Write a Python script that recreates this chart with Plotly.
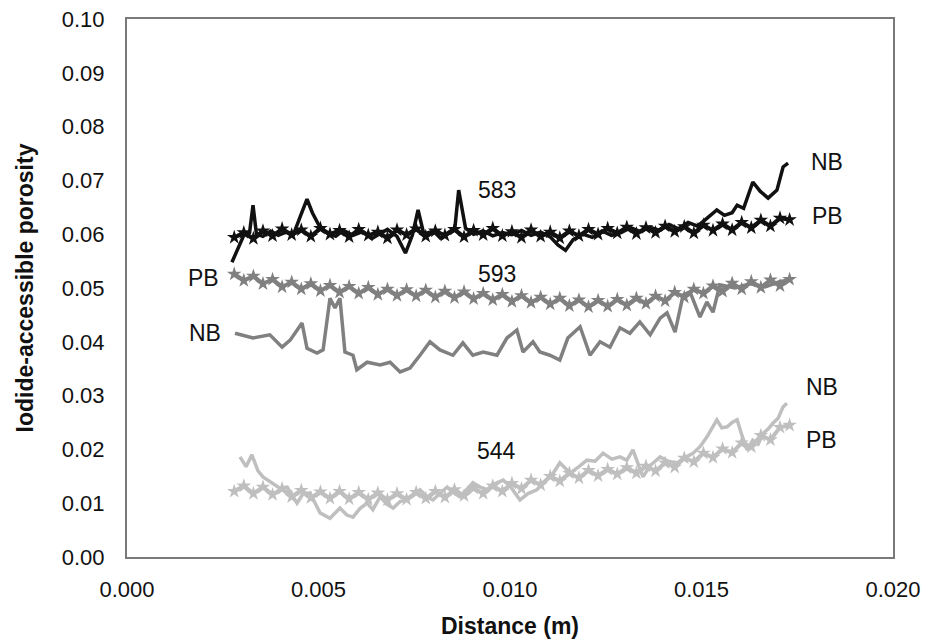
import plotly.graph_objects as go

# ---------------- data ----------------
dist_pb = [0.00280, 0.00305, 0.00330, 0.00355, 0.00380, 0.00405, 0.00430, 0.00455, 0.00480, 0.00505,
           0.00530, 0.00555, 0.00580, 0.00605, 0.00630, 0.00655, 0.00680, 0.00705, 0.00730, 0.00755,
           0.00780, 0.00805, 0.00830, 0.00855, 0.00880, 0.00905, 0.00930, 0.00955, 0.00980, 0.01005,
           0.01030, 0.01055, 0.01080, 0.01105, 0.01130, 0.01155, 0.01180, 0.01205, 0.01230, 0.01255,
           0.01280, 0.01305, 0.01330, 0.01355, 0.01380, 0.01405, 0.01430, 0.01455, 0.01480, 0.01505,
           0.01530, 0.01555, 0.01580, 0.01605, 0.01630, 0.01655, 0.01680, 0.01705, 0.01730]

pb_583 = [0.0594, 0.0603, 0.0592, 0.0606, 0.0597, 0.0610, 0.0599, 0.0608, 0.0596, 0.0611,
          0.0600, 0.0607, 0.0595, 0.0609, 0.0598, 0.0604, 0.0593, 0.0608, 0.0599, 0.0610,
          0.0596, 0.0606, 0.0598, 0.0609, 0.0595, 0.0607, 0.0599, 0.0611, 0.0597, 0.0605,
          0.0594, 0.0608, 0.0596, 0.0604, 0.0593, 0.0606, 0.0597, 0.0609, 0.0600, 0.0611,
          0.0602, 0.0613, 0.0601, 0.0612, 0.0603, 0.0615, 0.0605, 0.0614, 0.0602, 0.0617,
          0.0607, 0.0619, 0.0608, 0.0622, 0.0612, 0.0626, 0.0615, 0.0630, 0.0627]

pb_593 = [0.0526, 0.0514, 0.0522, 0.0508, 0.0516, 0.0502, 0.0511, 0.0498, 0.0508, 0.0495,
          0.0505, 0.0492, 0.0503, 0.0490, 0.0501, 0.0488, 0.0498, 0.0486, 0.0497, 0.0485,
          0.0496, 0.0483, 0.0494, 0.0482, 0.0493, 0.0480, 0.0490, 0.0478, 0.0488, 0.0475,
          0.0486, 0.0473, 0.0483, 0.0470, 0.0481, 0.0467, 0.0478, 0.0465, 0.0477, 0.0466,
          0.0479, 0.0468, 0.0481, 0.0471, 0.0485, 0.0476, 0.0492, 0.0483, 0.0498, 0.0490,
          0.0504, 0.0494, 0.0509, 0.0498, 0.0512, 0.0501, 0.0515, 0.0504, 0.0516]

pb_544 = [0.0122, 0.0132, 0.0118, 0.0130, 0.0116, 0.0127, 0.0112, 0.0124, 0.0110, 0.0121,
          0.0109, 0.0122, 0.0108, 0.0120, 0.0107, 0.0119, 0.0106, 0.0118, 0.0107, 0.0120,
          0.0109, 0.0122, 0.0111, 0.0125, 0.0114, 0.0128, 0.0118, 0.0132, 0.0122, 0.0137,
          0.0127, 0.0143, 0.0134, 0.0150, 0.0141, 0.0156, 0.0147, 0.0161, 0.0151, 0.0163,
          0.0154, 0.0166, 0.0156, 0.0169, 0.0160, 0.0175, 0.0167, 0.0184, 0.0177, 0.0193,
          0.0185, 0.0201, 0.0194, 0.0212, 0.0205, 0.0226, 0.0218, 0.0241, 0.0245]

dist_nb_583 = [0.00274, 0.00290, 0.00305, 0.00320, 0.00329, 0.00338, 0.00355, 0.00375, 0.00395, 0.00415,
               0.00435, 0.00452, 0.00470, 0.00484, 0.00500, 0.00520, 0.00545, 0.00565, 0.00590, 0.00615,
               0.00640, 0.00660, 0.00680, 0.00705, 0.00727, 0.00745, 0.00760, 0.00775, 0.00800, 0.00818,
               0.00840, 0.00856, 0.00866, 0.00884, 0.00905, 0.00930, 0.00955, 0.00980, 0.01005, 0.01030,
               0.01055, 0.01080, 0.01105, 0.01125, 0.01145, 0.01165, 0.01190, 0.01215, 0.01240, 0.01265,
               0.01290, 0.01315, 0.01340, 0.01365, 0.01390, 0.01415, 0.01440, 0.01465, 0.01490, 0.01515,
               0.01540, 0.01560, 0.01580, 0.01593, 0.01610, 0.01634, 0.01653, 0.01674, 0.01697, 0.01713,
               0.01726]
nb_583 = [0.0548, 0.0575, 0.0598, 0.0603, 0.0654, 0.0600, 0.0596, 0.0606, 0.0598, 0.0604,
          0.0600, 0.0632, 0.0665, 0.0640, 0.0618, 0.0603, 0.0596, 0.0607, 0.0598, 0.0605,
          0.0592, 0.0601, 0.0609, 0.0596, 0.0565, 0.0598, 0.0645, 0.0600, 0.0606, 0.0593,
          0.0604, 0.0611, 0.0682, 0.0611, 0.0600, 0.0606, 0.0597, 0.0603, 0.0599, 0.0607,
          0.0598, 0.0604, 0.0595, 0.0580, 0.0570, 0.0590, 0.0600, 0.0594, 0.0606, 0.0598,
          0.0603, 0.0612, 0.0605, 0.0613, 0.0607, 0.0618, 0.0610, 0.0622, 0.0615, 0.0630,
          0.0645, 0.0635, 0.0640, 0.0654, 0.0648, 0.0697, 0.0680, 0.0667, 0.0682, 0.0725,
          0.0732]

dist_nb_593 = [0.00282, 0.00329, 0.00373, 0.00405, 0.00426, 0.00457, 0.00470, 0.00496, 0.00512, 0.00530,
               0.00543, 0.00556, 0.00569, 0.00590, 0.00600, 0.00627, 0.00661, 0.00687, 0.00713, 0.00739,
               0.00765, 0.00791, 0.00817, 0.00851, 0.00877, 0.00903, 0.00930, 0.00966, 0.00992, 0.01018,
               0.01034, 0.01060, 0.01078, 0.01104, 0.01130, 0.01151, 0.01183, 0.01209, 0.01235, 0.01261,
               0.01287, 0.01313, 0.01339, 0.01366, 0.01392, 0.01410, 0.01431, 0.01452, 0.01470, 0.01496,
               0.01514, 0.01530, 0.01548, 0.01587, 0.01627, 0.01666, 0.01705, 0.01731]
nb_593 = [0.0416, 0.0407, 0.0413, 0.0390, 0.0403, 0.0435, 0.0388, 0.0379, 0.0385, 0.0481,
          0.0463, 0.0481, 0.0381, 0.0375, 0.0348, 0.0362, 0.0357, 0.0362, 0.0344, 0.0351,
          0.0375, 0.0400, 0.0385, 0.0375, 0.0398, 0.0375, 0.0381, 0.0375, 0.0407, 0.0422,
          0.0381, 0.0400, 0.0381, 0.0375, 0.0366, 0.0407, 0.0428, 0.0375, 0.0400, 0.0390,
          0.0426, 0.0416, 0.0437, 0.0413, 0.0444, 0.0454, 0.0418, 0.0487, 0.0493, 0.0446,
          0.0474, 0.0455, 0.0506, 0.0500, 0.0508, 0.0502, 0.0512, 0.0515]

dist_nb_544 = [0.00295, 0.00311, 0.00326, 0.00342, 0.00355, 0.00373, 0.00399, 0.00418, 0.00444, 0.00460,
               0.00478, 0.00504, 0.00530, 0.00556, 0.00574, 0.00590, 0.00608, 0.00627, 0.00642, 0.00661,
               0.00679, 0.00695, 0.00713, 0.00731, 0.00747, 0.00765, 0.00783, 0.00799, 0.00817, 0.00836,
               0.00851, 0.00869, 0.00888, 0.00903, 0.00922, 0.00940, 0.00961, 0.00982, 0.01000, 0.01026,
               0.01047, 0.01070, 0.01091, 0.01112, 0.01130, 0.01157, 0.01180, 0.01201, 0.01222, 0.01243,
               0.01266, 0.01287, 0.01305, 0.01321, 0.01347, 0.01366, 0.01392, 0.01413, 0.01436, 0.01457,
               0.01478, 0.01496, 0.01514, 0.01527, 0.01540, 0.01553, 0.01567, 0.01580, 0.01593, 0.01606,
               0.01619, 0.01634, 0.01648, 0.01661, 0.01674, 0.01687, 0.01700, 0.01713, 0.01723]
nb_544 = [0.0186, 0.0168, 0.0190, 0.0160, 0.0149, 0.0140, 0.0128, 0.0130, 0.0100, 0.0118,
          0.0119, 0.0082, 0.0072, 0.0091, 0.0078, 0.0074, 0.0090, 0.0100, 0.0088, 0.0112,
          0.0098, 0.0091, 0.0103, 0.0106, 0.0115, 0.0125, 0.0112, 0.0106, 0.0118, 0.0130,
          0.0120, 0.0112, 0.0126, 0.0138, 0.0130, 0.0125, 0.0136, 0.0143, 0.0132, 0.0106,
          0.0118, 0.0125, 0.0140, 0.0155, 0.0175, 0.0156, 0.0168, 0.0180, 0.0178, 0.0193,
          0.0182, 0.0186, 0.0180, 0.0199, 0.0149, 0.0170, 0.0186, 0.0178, 0.0175, 0.0185,
          0.0193, 0.0205, 0.0223, 0.0240, 0.0255, 0.0240, 0.0242, 0.0250, 0.0255, 0.0225,
          0.0199, 0.0217, 0.0210, 0.0230, 0.0238, 0.0249, 0.0258, 0.0279, 0.0286]

x_ticks = [0.000, 0.005, 0.010, 0.015, 0.020]
y_ticks = [0.00, 0.01, 0.02, 0.03, 0.04, 0.05, 0.06, 0.07, 0.08, 0.09, 0.10]

labels = [  # text, x, y
    ("583", 0.00966, 0.0682), ("593", 0.00966, 0.0526), ("544", 0.00966, 0.0197),
    ("NB", 0.01828, 0.0734), ("PB", 0.01828, 0.0634),
    ("PB", 0.00201, 0.0519), ("NB", 0.00203, 0.0416),
    ("NB", 0.01815, 0.0316), ("PB", 0.01812, 0.0217),
]

C583 = "#111111"
C593 = "#808080"
C544 = "#bfbfbf"
FONT = "Liberation Sans, Arial"

fig = go.Figure()

def pb_trace(y, color):
    return go.Scatter(x=dist_pb, y=y, mode="lines+markers",
                      line=dict(color=color, width=4),
                      marker=dict(symbol="star", size=11, color=color),
                      showlegend=False, hoverinfo="skip")

def nb_trace(x, y, color):
    return go.Scatter(x=x, y=y, mode="lines", line=dict(color=color, width=3.5),
                      showlegend=False, hoverinfo="skip")

fig.add_trace(pb_trace(pb_544, C544))
fig.add_trace(nb_trace(dist_nb_544, nb_544, C544))
fig.add_trace(pb_trace(pb_593, C593))
fig.add_trace(nb_trace(dist_nb_593, nb_593, C593))
fig.add_trace(pb_trace(pb_583, C583))
fig.add_trace(nb_trace(dist_nb_583, nb_583, C583))

for t, x, y in labels:
    fig.add_annotation(x=x, y=y, text=t, showarrow=False,
                       font=dict(family=FONT, size=23, color="#111"))

fig.update_layout(
    width=927, height=642,
    margin=dict(l=127, r=34, t=19, b=85),
    paper_bgcolor="white", plot_bgcolor="white",
    font=dict(family=FONT, color="#111"),
)
fig.update_xaxes(range=[0, 0.020], tickvals=x_ticks, ticktext=[f"{v:.3f}" for v in x_ticks],
                 showgrid=False, zeroline=False, showline=True, mirror=True,
                 linecolor="#7a7a7a", linewidth=2, ticks="", ticklabelstandoff=12,
                 tickfont=dict(size=22), automargin=False,
                 title=dict(text="<b>Distance (m)</b>", font=dict(size=23), standoff=16))
fig.update_yaxes(range=[0, 0.10], tickvals=y_ticks, ticktext=[f"{v:.2f}" for v in y_ticks],
                 showgrid=False, zeroline=False, showline=True, mirror=True,
                 linecolor="#7a7a7a", linewidth=2, ticks="", ticklabelstandoff=16,
                 tickfont=dict(size=22), automargin=False,
                 title=dict(text="<b>Iodide-accessible porosity</b>", font=dict(size=23), standoff=22))

fig.write_html("out.html")
